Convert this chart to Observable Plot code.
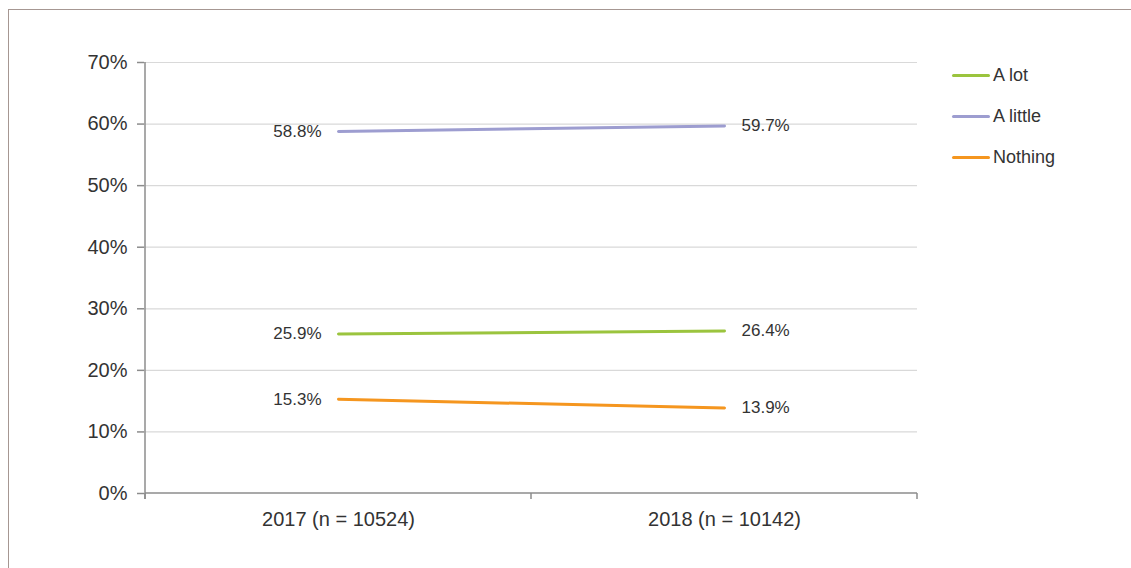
<!DOCTYPE html>
<html><head><meta charset="utf-8">
<script src="https://cdn.jsdelivr.net/npm/d3@7"></script>
<script src="https://cdn.jsdelivr.net/npm/@observablehq/plot@0.6"></script>
<style>
body{margin:0;background:#fff;font-family:"Liberation Sans",Arial,sans-serif;}
#wrap{position:relative;width:1131px;height:568px;overflow:hidden;}
#frame{position:absolute;left:8px;top:9px;width:1200px;height:600px;border-left:1.5px solid #a69792;border-top:1.5px solid #a69792;}
#chart{position:absolute;left:0;top:0;}
#legend{position:absolute;left:952px;top:55px;color:#333;font-size:18px;}
.item{display:flex;align-items:center;height:41px;}
.sw{width:38px;height:3px;border-radius:2px;margin-right:3px;}
</style>
</head><body>
<div id="wrap"><div id="frame"></div><div id="chart"></div><div id="legend"></div></div>
<script>
const years = ["2017 (n = 10524)", "2018 (n = 10142)"];
const series = ["A lot", "A little", "Nothing"];
const aLot = [0.259, 0.264];
const aLittle = [0.588, 0.597];
const nothing = [0.153, 0.139];
const colors = ["#9bc43e", "#9d9dd0", "#f5961f"];
const yTicks = [0, 0.1, 0.2, 0.3, 0.4, 0.5, 0.6, 0.7];

const valuesBySeries = [aLot, aLittle, nothing];
const rows = [];
series.forEach((s, i) => years.forEach((y, j) => rows.push({series: s, year: y, value: valuesBySeries[i][j]})));
const fmt = d3.format(".1%");
const axisColor = "#8c8c8c";
const textColor = "#333";

const axesLines = (index, scales, values, dimensions) => {
  const g = d3.create("svg:g").attr("stroke", axisColor).attr("stroke-width", 1.5).attr("fill", "none");
  const x = scales.x, y = scales.y;
  const p0 = x(years[0]), p1 = x(years[years.length - 1]);
  const step = years.length > 1 ? (p1 - p0) / (years.length - 1) : 0;
  const bounds = d3.range(years.length + 1).map(i => p0 - step / 2 + i * step);
  const y0 = y(0), yTop = y(yTicks[yTicks.length - 1]);
  g.append("line").attr("x1", bounds[0]).attr("x2", bounds[0]).attr("y1", yTop).attr("y2", y0 + 6);
  g.append("line").attr("x1", bounds[0]).attr("x2", bounds[bounds.length - 1]).attr("y1", y0).attr("y2", y0);
  bounds.forEach(b => g.append("line").attr("x1", b).attr("x2", b).attr("y1", y0).attr("y2", y0 + 6));
  return g.node();
};

const chart = Plot.plot({
  width: 1131, height: 568,
  marginLeft: 144, marginRight: 214, marginTop: 62, marginBottom: 75,
  style: {fontFamily: "'Liberation Sans', Arial, sans-serif", background: "transparent"},
  x: {type: "point", domain: years, padding: 0.5, label: null},
  y: {domain: [0, 0.7], label: null},
  color: {domain: series, range: colors},
  marks: [
    Plot.gridY(yTicks.slice(1), {stroke: "#d9d9d9", strokeOpacity: 1, strokeWidth: 1.2}),
    axesLines,
    Plot.axisY(yTicks, {tickFormat: d3.format(".0%"), tickSize: 7, tickPadding: 10, fontSize: 20, stroke: axisColor, fill: textColor, strokeWidth: 1.5, label: null}),
    Plot.axisX({tickSize: 0, tickPadding: 18, fontSize: 20, fill: textColor, label: null}),
    Plot.line(rows, {x: "year", y: "value", z: "series", stroke: "series", strokeWidth: 3}),
    Plot.text(rows.filter(d => d.year === years[0]), {x: "year", y: "value", text: d => fmt(d.value), textAnchor: "end", dx: -17, fontSize: 17, fill: textColor}),
    Plot.text(rows.filter(d => d.year === years[1]), {x: "year", y: "value", text: d => fmt(d.value), textAnchor: "start", dx: 17, fontSize: 17, fill: textColor})
  ]
});
document.getElementById("chart").appendChild(chart);

const legend = document.getElementById("legend");
series.forEach((s, i) => {
  const item = document.createElement("div");
  item.className = "item";
  const sw = document.createElement("div");
  sw.className = "sw";
  sw.style.background = colors[i];
  const t = document.createElement("span");
  t.textContent = s;
  item.appendChild(sw); item.appendChild(t);
  legend.appendChild(item);
});
</script>
</body></html>
